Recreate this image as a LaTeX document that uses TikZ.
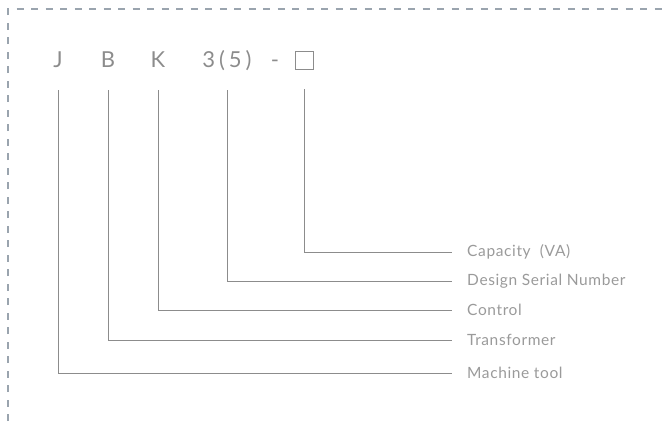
\documentclass[tikz,border=0pt]{standalone}
\usepackage{fontspec}
\setmainfont{Lato}
\newfontfamily\codefont{Lato}[LetterSpace=18]
\newfontfamily\labelfont{Lato}[LetterSpace=4]
\definecolor{leadgray}{HTML}{8C8C8C}
\definecolor{textgray}{HTML}{9A9A9A}
\definecolor{framegray}{HTML}{9AA4AE}
\begin{document}
\begin{tikzpicture}[x=1pt, y=-1pt,
        code/.style={inner sep=0pt, text height=15pt, text depth=3pt, anchor=base, text=leadgray, font=\codefont\fontsize{22}{22}\selectfont},
        codebox/.style={draw=leadgray, line width=0.8pt, minimum size=18pt, inner sep=0pt},
        lbl/.style={inner sep=0pt, anchor=west, text=textgray, font=\labelfont\fontsize{15.5}{16}\selectfont},
        lead/.style={draw=leadgray, line width=0.9pt, shorten <=20pt, shorten >=15pt}
      ]
      \useasboundingbox (0,0) rectangle (668,421);

      % Frame
      \draw[framegray, line width=1.2pt, dash pattern=on 7pt off 7.5pt] (8,421) -- (8,9) -- (668,9);

      % Model code
      \node[code] (J) at (58,67) {J};
      \node[code] (B) at (108,67) {B};
      \node[code] (K) at (158,67) {K};
      \node[code] (num) at (227,67) {3(5)};
      \node[code] (dash) at (275,67) {-};
      \node[codebox] (box) at (304,60) {};

      % Meanings
      \node[lbl] (cap) at (467,252) {Capacity~~(VA)};
      \node[lbl] (serial) at (467,281) {Design Serial Number};
      \node[lbl] (ctrl) at (467,310) {Control};
      \node[lbl] (trans) at (467,340) {Transformer};
      \node[lbl] (tool) at (467,373) {Machine tool};

      % Leader lines
      \draw[lead] (box) |- (cap);
      \draw[lead] (num) |- (serial);
      \draw[lead] (K) |- (ctrl);
      \draw[lead] (B) |- (trans);
      \draw[lead] (J) |- (tool);

    \end{tikzpicture}
\end{document}
